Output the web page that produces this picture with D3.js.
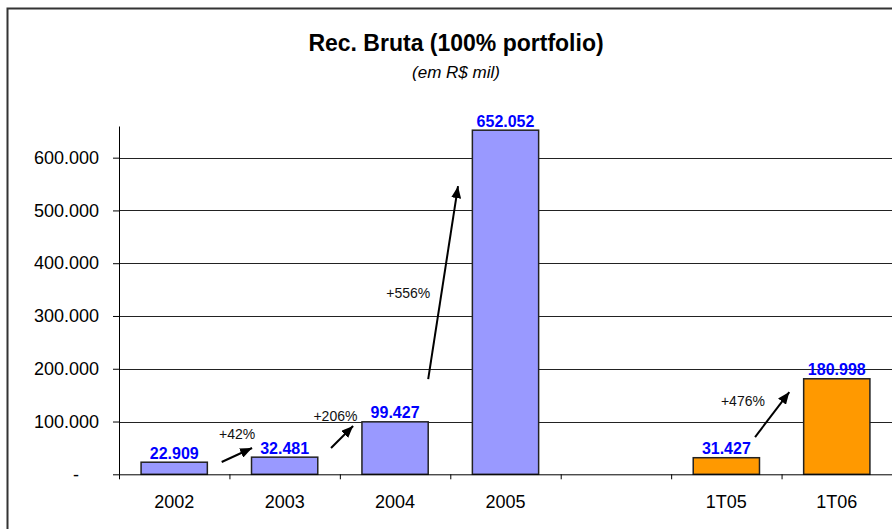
<!DOCTYPE html>
<html>
<head>
<meta charset="utf-8">
<title>Rec. Bruta</title>
<script src="https://d3js.org/d3.v7.min.js"></script>
<style>
  body { margin: 0; background: #fff; }
  text { font-family: Arial, "Liberation Sans", sans-serif; }
</style>
</head>
<body>
<div id="chart"></div>
<script>

// dados
const categories = ["2002", "2003", "2004", "2005", "", "1T05", "1T06"];
const values = [22909, 32481, 99427, 652052, null, 31427, 180998];
const groups = ["ano", "ano", "ano", "ano", null, "tri", "tri"];
const yTicks = [0, 100000, 200000, 300000, 400000, 500000, 600000];

// setas de crescimento (posição em unidades de categoria / valor)
const growthLabels = ["+42%", "+206%", "+556%", "+476%"];
const arrowStart = [[0.93, 23300], [1.92, 49800], [2.80, 180500], [5.76, 70600]];
const arrowEnd = [[1.205, 49800], [2.12, 91500], [3.07, 546000], [6.07, 155800]];
const labelAt = [[1.07, 66900], [1.96, 101000], [2.62, 334000], [5.65, 129700]];

const W = 892, H = 529;
const margin = {top: 126, right: 0, bottom: 54.7, left: 119};
const w = W - margin.left - margin.right;
const h = H - margin.top - margin.bottom;

const ptBR = d3.formatLocale({decimal: ",", thousands: ".", grouping: [3], currency: ["R$", ""]});
const fmt = ptBR.format(",.0f");

const svg = d3.select("#chart").append("svg")
    .attr("width", W)
    .attr("height", H);

// moldura
svg.append("rect")
    .attr("x", 7.5).attr("y", 8.5)
    .attr("width", 900).attr("height", 540)
    .attr("fill", "none")
    .attr("stroke", "#333")
    .attr("stroke-width", 2);

// títulos
svg.append("text")
    .attr("x", 456).attr("y", 51)
    .attr("text-anchor", "middle")
    .attr("font-size", "23px")
    .attr("font-weight", "bold")
    .text("Rec. Bruta (100% portfolio)");

svg.append("text")
    .attr("x", 456).attr("y", 78)
    .attr("text-anchor", "middle")
    .attr("font-size", "17px")
    .attr("font-style", "italic")
    .text("(em R$ mil)");

const g = svg.append("g")
    .attr("transform", "translate(" + margin.left + "," + margin.top + ")");

// escalas
const x = d3.scaleBand()
    .domain(categories)
    .range([0, w])
    .paddingInner(0.4)
    .paddingOuter(0.2);

const xIdx = d3.scaleLinear()
    .domain([0, categories.length])
    .range([0, w]);

const y = d3.scaleLinear()
    .domain([0, 660000])
    .range([h, 0]);

// grade
g.append("g")
    .selectAll("line")
    .data(yTicks.filter(d => d > 0))
    .enter().append("line")
    .attr("x1", 0).attr("x2", w)
    .attr("y1", d => Math.round(y(d)) + 0.5)
    .attr("y2", d => Math.round(y(d)) + 0.5)
    .attr("stroke", "#222")
    .attr("stroke-width", 1);

// barras
g.append("g")
    .selectAll("rect")
    .data(categories.map((c, i) => ({c: c, v: values[i], g: groups[i]})).filter(d => d.v != null))
    .enter().append("rect")
    .attr("x", d => x(d.c))
    .attr("width", x.bandwidth())
    .attr("y", d => y(d.v))
    .attr("height", d => h - y(d.v))
    .attr("fill", d => d.g === "ano" ? "#9999ff" : "#ff9900")
    .attr("stroke", "#222")
    .attr("stroke-width", 1.5);

// rótulos de valor
g.append("g")
    .selectAll("text")
    .data(categories.map((c, i) => ({c: c, v: values[i]})).filter(d => d.v != null))
    .enter().append("text")
    .attr("x", d => x(d.c) + x.bandwidth() / 2)
    .attr("y", d => y(d.v) - 3.5)
    .attr("text-anchor", "middle")
    .attr("font-size", "16px")
    .attr("font-weight", "bold")
    .attr("fill", "#0000ff")
    .text(d => fmt(d.v));

// eixo y
const yAxis = d3.axisLeft(y)
    .tickValues(yTicks)
    .tickSizeInner(6)
    .tickSizeOuter(0)
    .tickPadding(14)
    .tickFormat(d => d === 0 ? "-" : fmt(d));

const gy = g.append("g").call(yAxis);
gy.selectAll("text")
    .attr("font-size", "18px")
    .attr("fill", "#000")
    .attr("dx", d => d === 0 ? -20 : 0);
gy.selectAll("line, path").attr("stroke", "#000");

// eixo x: marcas nas divisões
const gx = g.append("g")
    .attr("transform", "translate(0," + h + ")")
    .call(d3.axisBottom(xIdx)
        .tickValues(d3.range(categories.length + 1))
        .tickFormat("")
        .tickSizeInner(5)
        .tickSizeOuter(0));
gx.selectAll("line, path").attr("stroke", "#000");

// rótulos das categorias
const gxl = g.append("g")
    .attr("transform", "translate(0," + h + ")")
    .call(d3.axisBottom(x).tickSize(0).tickPadding(21));
gxl.select(".domain").remove();
gxl.selectAll("text")
    .attr("font-size", "18px")
    .attr("fill", "#000");

// setas
svg.append("defs").append("marker")
    .attr("id", "head")
    .attr("viewBox", "0 0 12 10")
    .attr("refX", 12).attr("refY", 5)
    .attr("markerWidth", 12).attr("markerHeight", 10)
    .attr("markerUnits", "userSpaceOnUse")
    .attr("orient", "auto")
    .append("path")
    .attr("d", "M0,0L12,5L0,10Z")
    .attr("fill", "#000");

g.append("g")
    .selectAll("line")
    .data(growthLabels.map((t, i) => ({s: arrowStart[i], e: arrowEnd[i]})))
    .enter().append("line")
    .attr("x1", d => xIdx(d.s[0])).attr("y1", d => y(d.s[1]))
    .attr("x2", d => xIdx(d.e[0])).attr("y2", d => y(d.e[1]))
    .attr("stroke", "#000")
    .attr("stroke-width", 2)
    .attr("marker-end", "url(#head)");

g.append("g")
    .selectAll("text")
    .data(growthLabels.map((t, i) => ({t: t, p: labelAt[i]})))
    .enter().append("text")
    .attr("x", d => xIdx(d.p[0]))
    .attr("y", d => y(d.p[1]))
    .attr("text-anchor", "middle")
    .attr("font-size", "14px")
    .attr("fill", "#111")
    .text(d => d.t);

</script>
</body>
</html>
